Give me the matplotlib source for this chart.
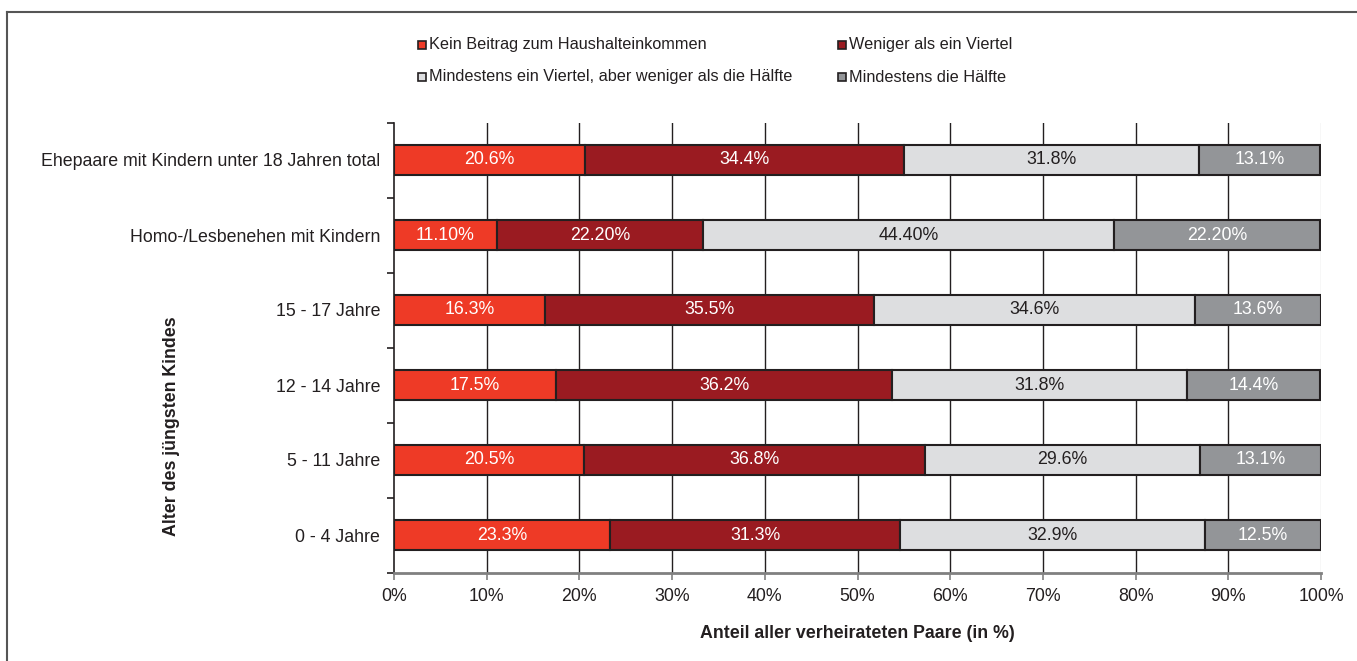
import matplotlib
matplotlib.use("Agg")
import matplotlib.pyplot as plt
from matplotlib.patches import Rectangle
from matplotlib.lines import Line2D

plt.rcParams['font.family'] = ['Liberation Sans', 'DejaVu Sans']

categories = ["Ehepaare mit Kindern unter 18 Jahren total",
              "Homo-/Lesbenehen mit Kindern",
              "15 - 17 Jahre", "12 - 14 Jahre", "5 - 11 Jahre", "0 - 4 Jahre"]
series_names = ["Kein Beitrag zum Haushalteinkommen",
                "Weniger als ein Viertel",
                "Mindestens ein Viertel, aber weniger als die Hälfte",
                "Mindestens die Hälfte"]
kein = [20.6, 11.1, 16.3, 17.5, 20.5, 23.3]
weniger = [34.4, 22.2, 35.5, 36.2, 36.8, 31.3]
viertel = [31.8, 44.4, 34.6, 31.8, 29.6, 32.9]
haelfte = [13.1, 22.2, 13.6, 14.4, 13.1, 12.5]
label_kein = ["20.6%", "11.10%", "16.3%", "17.5%", "20.5%", "23.3%"]
label_weniger = ["34.4%", "22.20%", "35.5%", "36.2%", "36.8%", "31.3%"]
label_viertel = ["31.8%", "44.40%", "34.6%", "31.8%", "29.6%", "32.9%"]
label_haelfte = ["13.1%", "22.20%", "13.6%", "14.4%", "13.1%", "12.5%"]
xticks = [0, 10, 20, 30, 40, 50, 60, 70, 80, 90, 100]
xticklabels = ["0%", "10%", "20%", "30%", "40%", "50%", "60%", "70%", "80%", "90%", "100%"]

colors = ["#EE3A26", "#9A1B21", "#DDDEE0", "#939598"]
text_colors = ["white", "white", "#231F20", "white"]
edge = "#231F20"
FS = 12.8
FS_LEG = 11.7

W, H = 1357, 661
fig = plt.figure(figsize=(W / 100, H / 100), dpi=100)
ax = fig.add_axes([394 / W, 1 - 572.5 / H, (1321 - 394) / W, 450 / H])

values = [kein, weniger, viertel, haelfte]
labels = [label_kein, label_weniger, label_viertel, label_haelfte]
ypos = list(range(len(categories)))
left = [0.0] * len(categories)
for vals, labs, c, tc in zip(values, labels, colors, text_colors):
    bars = ax.barh(ypos, vals, left=left, height=0.4, color=c, edgecolor=edge,
                   linewidth=1.5, zorder=3)
    for b, lab in zip(bars, labs):
        ax.text(b.get_x() + b.get_width() / 2, b.get_y() + b.get_height() / 2, lab,
                ha="center", va="center", color=tc, fontsize=FS, zorder=4)
    left = [l + v for l, v in zip(left, vals)]

ax.set_xlim(0, 100)
ax.set_ylim(len(categories) - 0.5, -0.5)
ax.set_xticks(xticks)
ax.set_xticklabels(xticklabels, fontsize=FS, color="#231F20")
ax.set_yticks(ypos)
ax.set_yticklabels(categories, fontsize=FS, color="#231F20")
ax.tick_params(axis="y", length=0, pad=10)
ax.set_yticks([i - 0.5 for i in range(len(categories) + 1)], minor=True)
ax.tick_params(axis="y", which="minor", length=5, width=1.2, color="#231F20")
ax.tick_params(axis="x", length=5, width=1.2, color="#808080", pad=6)

for x in xticks[1:-1]:
    ax.axvline(x, color="#231F20", linewidth=1.0, zorder=1)
ax.axvline(100, color="#D9D9D9", linewidth=1.0, zorder=1)

for s in ["top", "right"]:
    ax.spines[s].set_visible(False)
ax.spines["left"].set_color("#231F20")
ax.spines["left"].set_linewidth(1.2)
ax.spines["bottom"].set_color("#808080")
ax.spines["bottom"].set_linewidth(2.0)
ax.spines["bottom"].set_zorder(5)

# axis titles
fig.text(857 / W, 1 - 634 / H, "Anteil aller verheirateten Paare (in %)",
         ha="center", va="center", fontsize=FS, fontweight="bold", color="#231F20")
fig.text(172 / W, 1 - 426 / H, "Alter des jüngsten Kindes", rotation=90,
         ha="center", va="center", fontsize=FS, fontweight="bold", color="#231F20")

# legend (manual)
leg_pos = [(418, 45), (838, 45), (418, 77), (838, 77)]
for (lx, ly), name, c in zip(leg_pos, series_names, colors):
    fig.patches.append(Rectangle((lx / W, 1 - (ly + 4) / H), 8 / W, 8 / H,
                                 transform=fig.transFigure, facecolor=c,
                                 edgecolor=edge, linewidth=1.2))
    fig.text((lx + 11) / W, 1 - ly / H, name, ha="left", va="center",
             fontsize=FS_LEG, color="#231F20")

# outer frame
fig.lines.append(Line2D([7 / W, 1.0], [1 - 12 / H, 1 - 12 / H],
                        transform=fig.transFigure, color="#555555", linewidth=1.5))
fig.lines.append(Line2D([7 / W, 7 / W], [0.0, 1 - 12 / H],
                        transform=fig.transFigure, color="#555555", linewidth=1.5))

fig.savefig("out.png", dpi=100, facecolor="white")
